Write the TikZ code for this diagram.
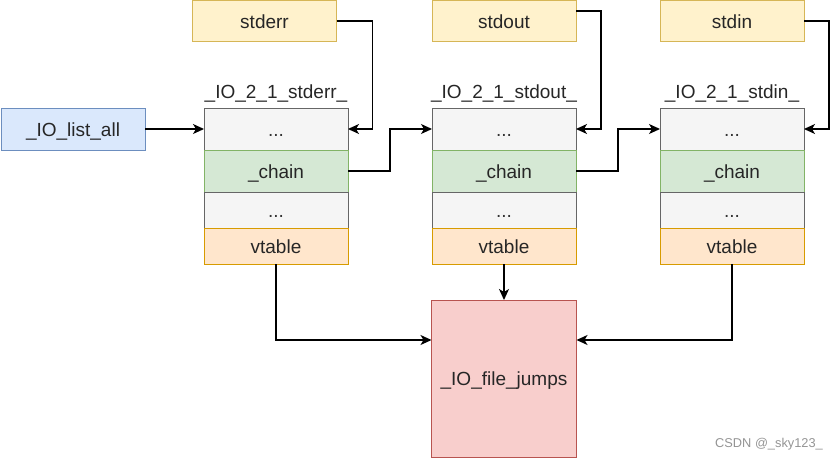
\documentclass[tikz,border=0pt]{standalone}
\usepackage{fontspec}
\setmainfont{Liberation Sans}
\usepackage{xcolor}
\usetikzlibrary{positioning,arrows.meta}

\definecolor{grayfill}{HTML}{F5F5F5}
\definecolor{graydraw}{HTML}{666666}
\definecolor{graytext}{HTML}{333333}
\definecolor{greenfill}{HTML}{D5E8D4}
\definecolor{greendraw}{HTML}{82B366}
\definecolor{orangefill}{HTML}{FFE6CC}
\definecolor{orangedraw}{HTML}{D79B00}
\definecolor{yellowfill}{HTML}{FFF2CC}
\definecolor{yellowdraw}{HTML}{D6B656}
\definecolor{bluefill}{HTML}{DAE8FC}
\definecolor{bluedraw}{HTML}{6C8EBF}
\definecolor{redfill}{HTML}{F8CECC}
\definecolor{reddraw}{HTML}{B85450}

\begin{document}
\begin{tikzpicture}[
    x=1pt, y=-1pt,
    box/.style={rectangle, line width=1pt, inner sep=0pt, outer sep=0pt, minimum width=144pt, text height=14pt, text depth=0pt, text=black!85, font=\fontsize{19}{22}\selectfont},
    dotrow/.style={box, fill=grayfill, draw=graydraw, text=graytext, minimum height=42pt},
    smallrow/.style={box, fill=grayfill, draw=graydraw, text=graytext, minimum height=36pt},
    chainrow/.style={box, fill=greenfill, draw=greendraw, minimum height=42pt},
    vtrow/.style={box, fill=orangefill, draw=orangedraw, minimum height=36pt},
    filebox/.style={box, fill=yellowfill, draw=yellowdraw, minimum height=41pt},
    title/.style={anchor=base, inner sep=0pt, text=black!85, font=\fontsize{19}{22}\selectfont},
    arrow/.style={line width=1.4pt, -{Stealth[length=11pt, width=10pt, inset=3pt]}}
]
\useasboundingbox (0,0) rectangle (839,458);

% Top file pointers
\node [filebox] (stderr) at (264.5,21) {stderr};
\node [filebox] (stdout) at (504,21) {stdout};
\node [filebox] (stdin) at (732,21) {stdin};

% List head
\node [box, fill=bluefill, draw=bluedraw, minimum width=144pt, minimum height=42pt] (listall) at (73,129) {\_IO\_list\_all};

% _IO_2_1_stderr_
\node [title] (errL) at (276,98) {\_IO\_2\_1\_stderr\_};
\node [dotrow] (errA) at (276,129) {...};
\node [chainrow] (errC) at (276,171) {\_chain};
\node [smallrow] (errB) at (276,210) {...};
\node [vtrow] (errV) at (276,246) {vtable};

% _IO_2_1_stdout_
\node [title] (outL) at (504,98) {\_IO\_2\_1\_stdout\_};
\node [dotrow] (outA) at (504,129) {...};
\node [chainrow] (outC) at (504,171) {\_chain};
\node [smallrow] (outB) at (504,210) {...};
\node [vtrow] (outV) at (504,246) {vtable};

% _IO_2_1_stdin_
\node [title] (inL) at (732,98) {\_IO\_2\_1\_stdin\_};
\node [dotrow] (inA) at (732,129) {...};
\node [chainrow] (inC) at (732,171) {\_chain};
\node [smallrow] (inB) at (732,210) {...};
\node [vtrow] (inV) at (732,246) {vtable};

% Jump table
\node [box, fill=redfill, draw=reddraw, minimum width=145pt, minimum height=157pt] (jumps) at (504,378.5) {\_IO\_file\_jumps};

% Pointers from the top boxes
\draw [arrow] (stderr.east) -- ++(36,0) |- (errA.east);
\draw [arrow] ([yshift=10pt]stdout.east) -- ++(25,0) |- (outA.east);
\draw [arrow] (stdin.east) -- ++(25,0) |- (inA.east);

% List and chain links
\draw [arrow] (listall.east) -- (errA.west);
\draw [arrow] (errC.east) -- ++(42,0) |- (outA.west);
\draw [arrow] (outC.east) -- ++(42,0) |- (inA.west);

% vtable links
\draw [arrow] (errV.south) |- ([yshift=38.5pt]jumps.west);
\draw [arrow] (outV.south) -- (jumps.north);
\draw [arrow] (inV.south) |- ([yshift=38.5pt]jumps.east);

% Watermark
\node [anchor=base, inner sep=0pt, text=black!42, font=\fontsize{12.8}{15}\selectfont] (mark) at (769,447) {CSDN @\_sky123\_};

\end{tikzpicture}
\end{document}
